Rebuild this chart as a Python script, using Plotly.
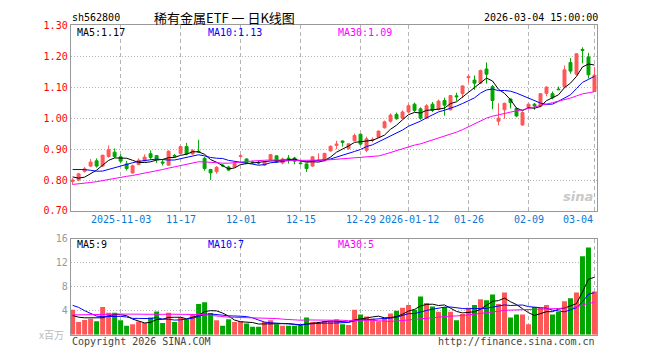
import plotly.graph_objects as go
import pandas as pd

# ---------------- data ----------------
tick_labels = ["2025-11-03", "11-17", "12-01", "12-15", "12-29", "2026-01-12", "01-26", "02-09", "03-04"]
tick_index = [8, 18, 28, 38, 48, 56, 66, 76, 87]

open_ = [0.795, 0.800, 0.828, 0.845, 0.862, 0.845, 0.876, 0.890, 0.875, 0.852,
         0.823, 0.850, 0.862, 0.885, 0.879, 0.858, 0.848, 0.879, 0.886, 0.908,
         0.884, 0.893, 0.870, 0.834, 0.827, 0.848, 0.842, 0.842, 0.876, 0.868,
         0.858, 0.857, 0.848, 0.866, 0.878, 0.855, 0.871, 0.871, 0.855, 0.852,
         0.845, 0.862, 0.862, 0.894, 0.912, 0.926, 0.902, 0.927, 0.948, 0.896,
         0.928, 0.938, 0.969, 0.990, 1.012, 1.000, 1.020, 1.045, 1.030, 1.000,
         1.045, 1.028, 1.057, 1.027, 1.072, 1.079, 1.131, 1.123, 1.113, 1.159,
         1.102, 0.990, 1.027, 1.062, 1.031, 0.978, 1.034, 1.045, 1.038, 1.080,
         1.079, 1.094, 1.102, 1.180, 1.142, 1.222, 1.198, 1.086]
high = [0.806, 0.823, 0.842, 0.868, 0.870, 0.882, 0.912, 0.902, 0.883, 0.862,
        0.850, 0.870, 0.883, 0.896, 0.880, 0.868, 0.896, 0.884, 0.910, 0.920,
        0.900, 0.930, 0.875, 0.836, 0.845, 0.852, 0.846, 0.856, 0.883, 0.870,
        0.862, 0.862, 0.862, 0.884, 0.880, 0.872, 0.881, 0.875, 0.858, 0.854,
        0.877, 0.886, 0.888, 0.912, 0.927, 0.928, 0.918, 0.950, 0.950, 0.940,
        0.938, 0.960, 0.992, 1.015, 1.018, 1.025, 1.045, 1.050, 1.035, 1.045,
        1.052, 1.060, 1.066, 1.075, 1.082, 1.106, 1.141, 1.138, 1.157, 1.180,
        1.107, 1.048, 1.050, 1.064, 1.034, 1.022, 1.047, 1.049, 1.081, 1.104,
        1.086, 1.102, 1.170, 1.194, 1.210, 1.229, 1.211, 1.165]
low = [0.785, 0.796, 0.824, 0.842, 0.840, 0.842, 0.872, 0.872, 0.854, 0.831,
       0.820, 0.848, 0.860, 0.865, 0.855, 0.847, 0.846, 0.874, 0.884, 0.880,
       0.882, 0.888, 0.830, 0.800, 0.820, 0.842, 0.830, 0.840, 0.870, 0.852,
       0.852, 0.850, 0.845, 0.864, 0.855, 0.851, 0.853, 0.851, 0.850, 0.826,
       0.843, 0.860, 0.860, 0.892, 0.900, 0.908, 0.898, 0.925, 0.912, 0.890,
       0.922, 0.936, 0.966, 0.985, 0.995, 0.997, 1.015, 1.020, 0.995, 0.998,
       1.020, 1.025, 1.008, 1.025, 1.056, 1.066, 1.115, 1.092, 1.110, 1.112,
       1.029, 0.977, 0.998, 1.031, 1.003, 0.975, 1.030, 1.027, 1.035, 1.071,
       1.061, 1.091, 1.097, 1.144, 1.138, 1.177, 1.128, 1.086]
close = [0.800, 0.820, 0.836, 0.858, 0.845, 0.880, 0.898, 0.876, 0.861, 0.837,
         0.846, 0.864, 0.874, 0.873, 0.866, 0.855, 0.893, 0.877, 0.908, 0.884,
         0.895, 0.891, 0.837, 0.823, 0.841, 0.846, 0.832, 0.853, 0.878, 0.855,
         0.857, 0.855, 0.859, 0.882, 0.858, 0.868, 0.869, 0.861, 0.853, 0.837,
         0.875, 0.864, 0.886, 0.909, 0.916, 0.922, 0.917, 0.944, 0.916, 0.933,
         0.931, 0.958, 0.988, 1.010, 0.998, 1.020, 1.040, 1.025, 1.000, 1.040,
         1.025, 1.055, 1.042, 1.073, 1.069, 1.104, 1.134, 1.113, 1.154, 1.142,
         1.057, 1.000, 1.048, 1.050, 1.007, 1.018, 1.045, 1.040, 1.079, 1.100,
         1.066, 1.092, 1.156, 1.152, 1.208, 1.219, 1.140, 1.139]
volume = [4.16, 2.13, 2.45, 2.67, 2.24, 4.64, 3.68, 3.68, 2.40, 1.49,
          1.76, 2.19, 1.97, 2.88, 3.89, 1.97, 3.68, 2.13, 2.88, 2.56,
          3.30, 5.12, 5.44, 3.63, 2.40, 1.49, 2.56, 2.13, 2.24, 1.87,
          1.33, 1.33, 2.13, 2.40, 1.76, 1.49, 1.49, 1.49, 1.49, 2.88,
          2.13, 1.92, 2.29, 2.29, 2.56, 1.76, 1.60, 4.16, 3.36, 3.04,
          2.67, 2.24, 2.77, 3.52, 4.00, 4.48, 4.96, 4.16, 6.40, 5.28,
          4.69, 3.84, 4.64, 3.84, 2.40, 3.47, 4.48, 4.96, 5.92, 5.76,
          6.72, 5.12, 7.04, 2.88, 3.36, 3.36, 1.76, 4.64, 4.48, 4.96,
          3.36, 3.84, 5.60, 6.08, 7.04, 13.10, 14.56, 7.20]
# 29 sessions before the visible window (only used for the moving averages)
prior_close = [0.780, 0.775, 0.770, 0.765, 0.770, 0.768, 0.762, 0.766, 0.770, 0.764,
               0.758, 0.752, 0.748, 0.745, 0.750, 0.755, 0.752, 0.748, 0.758, 0.774,
               0.810, 0.850, 0.880, 0.875, 0.875, 0.840, 0.820, 0.800, 0.790]
prior_volume = [2.2, 2.6, 2.4, 2.8, 2.3, 2.5, 2.1, 2.9, 2.6, 2.4,
                2.3, 2.7, 2.5, 2.2, 2.6, 2.8, 2.4, 2.5, 2.7, 2.5,
                5.5, 8.0, 7.5, 6.5, 5.5, 3.5, 3.0, 2.8, 2.54]

ma_price_labels = ["MA5:1.17", "MA10:1.13", "MA30:1.09"]
ma_volume_labels = ["MA5:9", "MA10:7", "MA30:5"]

# ---------------- derived ----------------
n = len(close)
x = list(range(n))
cs = pd.Series(prior_close + close)
vs = pd.Series(prior_volume + volume)
k = len(prior_close)
ma = {p: cs.rolling(p).mean().iloc[k:].tolist() for p in (5, 10, 30)}
vma = {p: vs.rolling(p).mean().iloc[k:].tolist() for p in (5, 10, 30)}

RED = "#ff5757"
GREEN = "#00a600"
MA_COL = {5: "#000000", 10: "#0000ff", 30: "#ff00ff"}
FONT = "DejaVu Sans Mono"
W, H = 660, 360

vol_colors = [RED if c >= o else GREEN for o, c in zip(open_, close)]

fig = go.Figure()
fig.add_trace(go.Candlestick(
    x=x, open=open_, high=high, low=low, close=close,
    increasing=dict(line=dict(color=RED, width=1), fillcolor=RED),
    decreasing=dict(line=dict(color=GREEN, width=1), fillcolor=GREEN),
    xaxis="x", yaxis="y", showlegend=False, hoverinfo="skip"))
for p in (5, 10, 30):
    fig.add_trace(go.Scatter(x=x, y=ma[p], mode="lines", line=dict(color=MA_COL[p], width=1),
                             xaxis="x", yaxis="y", showlegend=False, hoverinfo="skip"))
fig.add_trace(go.Bar(x=x, y=volume, marker=dict(color=vol_colors, line=dict(width=0)),
                     xaxis="x2", yaxis="y2", showlegend=False, hoverinfo="skip"))
for p in (5, 10, 30):
    fig.add_trace(go.Scatter(x=x, y=vma[p], mode="lines", line=dict(color=MA_COL[p], width=1),
                             xaxis="x2", yaxis="y2", showlegend=False, hoverinfo="skip"))

xl, xr = 70.7 / W, 597 / W
xrange = [-0.32, 87.42]
grid_x = dict(showgrid=True, gridcolor="#b4b4b4", gridwidth=1, griddash="4px,3px",
              tickvals=tick_index, showticklabels=False, ticks="",
              showline=True, linecolor="#999999", linewidth=1, mirror=True,
              range=xrange, zeroline=False, fixedrange=True)
fig.update_layout(
    width=W, height=H, margin=dict(l=0, r=0, t=0, b=0), autosize=False,
    paper_bgcolor="white", plot_bgcolor="white",
    boxgap=0.3, bargap=0.17,
    xaxis=dict(domain=[xl, xr], rangeslider=dict(visible=False), **grid_x),
    xaxis2=dict(domain=[xl, xr], anchor="y2", **grid_x),
    yaxis=dict(domain=[1 - 212 / H, 1 - 20 / H], range=[0.70, 1.30],
               tickvals=[0.7, 0.8, 0.9, 1.0, 1.1, 1.2, 1.3],
               ticktext=["0.70", "0.80", "0.90", "1.00", "1.10", "1.20", "1.30"],
               tickfont=dict(family=FONT, size=10, color="#ff0000"),
               showgrid=True, gridcolor="#b4b4b4", griddash="1px,2px", ticks="",
               showline=True, linecolor="#999999", linewidth=1, mirror=True,
               zeroline=False, fixedrange=True, anchor="x"),
    yaxis2=dict(domain=[1 - 340 / H, 1 - 241 / H], range=[0, 16],
                tickvals=[4, 8, 12, 16], ticktext=["4", "8", "12", "16"],
                tickfont=dict(family=FONT, size=10, color="#999999"),
                showgrid=True, gridcolor="#b4b4b4", griddash="1px,2px", ticks="",
                showline=True, linecolor="#999999", linewidth=1, mirror=True,
                zeroline=False, fixedrange=True, anchor="x2"),
)

ann = []
def txt(t, px, py, color="#000000", anchor="left", size=10, family=FONT, **kw):
    ann.append(dict(text=t, x=px / W, y=1 - py / H, xref="paper", yref="paper",
                    xanchor=anchor, yanchor="middle", showarrow=False,
                    font=dict(family=family, size=size, color=color), **kw))

txt("sh562800", 70, 12)
txt("稀有金属ETF 一 日K线图", 225, 12, anchor="center", size=13,
    family="Noto Sans CJK SC")
txt("2026-03-04 15:00:00", 600, 12, anchor="right")
for t, px, p in zip(ma_price_labels, [74.5, 205.6, 336.3], (5, 10, 30)):
    txt(t, px, 27, color=MA_COL[p])
for t, px, p in zip(ma_volume_labels, [74.5, 205.6, 336.3], (5, 10, 30)):
    txt(t, px, 247, color=MA_COL[p])
txt("x百万", 66, 340, color="#bbbbbb", anchor="right", family="Noto Sans CJK SC")
txt("Copyright 2026 SINA.COM", 70, 347, color="#444444")
txt("http://finance.sina.com.cn", 597, 347, color="#444444", anchor="right")
txt("<i><b>sina</b></i>", 578, 197, color="#c8c8c8", anchor="center", size=13,
    family="DejaVu Sans")

for lab, idx in zip(tick_labels, tick_index):
    last = idx == tick_index[-1]
    ann.append(dict(text=lab, x=idx + (0.1 if last else 0), y=1 - 221 / H,
                    xref="x", yref="paper", xanchor="right" if last else "center",
                    yanchor="middle", showarrow=False,
                    font=dict(family=FONT, size=10, color="#0a78d2")))
fig.update_layout(annotations=ann)

fig.write_html("out.html", config={"displayModeBar": False},
               post_script="document.body.style.margin='0';document.body.style.overflow='hidden';")
